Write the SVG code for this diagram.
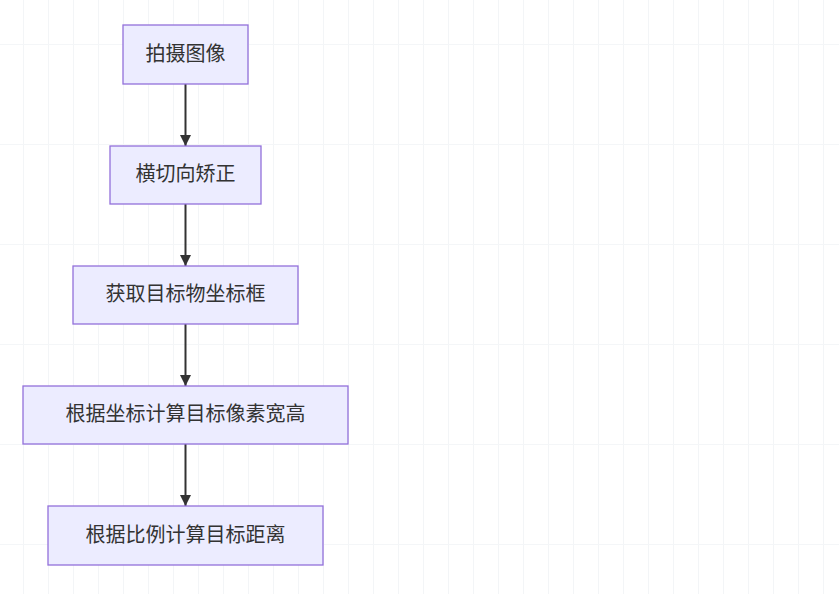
<svg xmlns="http://www.w3.org/2000/svg" width="839" height="594" viewBox="0 0 839 594">
<defs>
<pattern id="gridv" x="23" y="0" width="25" height="594" patternUnits="userSpaceOnUse">
<rect x="0" y="0" width="1" height="594" fill="#f3f5f7"/>
</pattern>
<pattern id="gridh" x="0" y="44" width="839" height="100" patternUnits="userSpaceOnUse">
<rect x="0" y="0" width="839" height="1" fill="#f4f6f8"/>
</pattern>
<marker id="arrow" viewBox="0 0 10 10" refX="10" refY="5" markerWidth="11" markerHeight="11" orient="auto" markerUnits="userSpaceOnUse">
<path d="M0,0 L10,5 L0,10 z" fill="#333333"/>
</marker>
</defs>
<style>
.node rect { fill: #ECECFF; stroke: #9370DB; stroke-width: 1.3; }
.node text { font-family: "Liberation Sans", "Noto Sans CJK SC", sans-serif; font-size: 20px; fill: #333333; text-anchor: middle; dominant-baseline: central; }
.edge { stroke: #333333; stroke-width: 2; fill: none; }
</style>
<rect width="839" height="594" fill="#ffffff"/>
<rect width="839" height="594" fill="url(#gridv)"/>
<rect width="839" height="594" fill="url(#gridh)"/>
<g id="connectors">
<path class="edge" d="M185.5,84 L185.5,146" marker-end="url(#arrow)"/>
<path class="edge" d="M185.5,204 L185.5,266" marker-end="url(#arrow)"/>
<path class="edge" d="M185.5,324 L185.5,386" marker-end="url(#arrow)"/>
<path class="edge" d="M185.5,444 L185.5,506" marker-end="url(#arrow)"/>
</g>
<g id="node1" class="node">
<rect x="123" y="25" width="125" height="59"/>
<text x="185.5" y="53.5">拍摄图像</text>
</g>
<g id="node2" class="node">
<rect x="110" y="146" width="151" height="58"/>
<text x="185.5" y="174">横切向矫正</text>
</g>
<g id="node3" class="node">
<rect x="73" y="266" width="225" height="58"/>
<text x="185.5" y="294">获取目标物坐标框</text>
</g>
<g id="node4" class="node">
<rect x="23" y="386" width="325" height="58"/>
<text x="185.5" y="414">根据坐标计算目标像素宽高</text>
</g>
<g id="node5" class="node">
<rect x="48" y="506" width="275" height="59"/>
<text x="185.5" y="534.5">根据比例计算目标距离</text>
</g>
</svg>
